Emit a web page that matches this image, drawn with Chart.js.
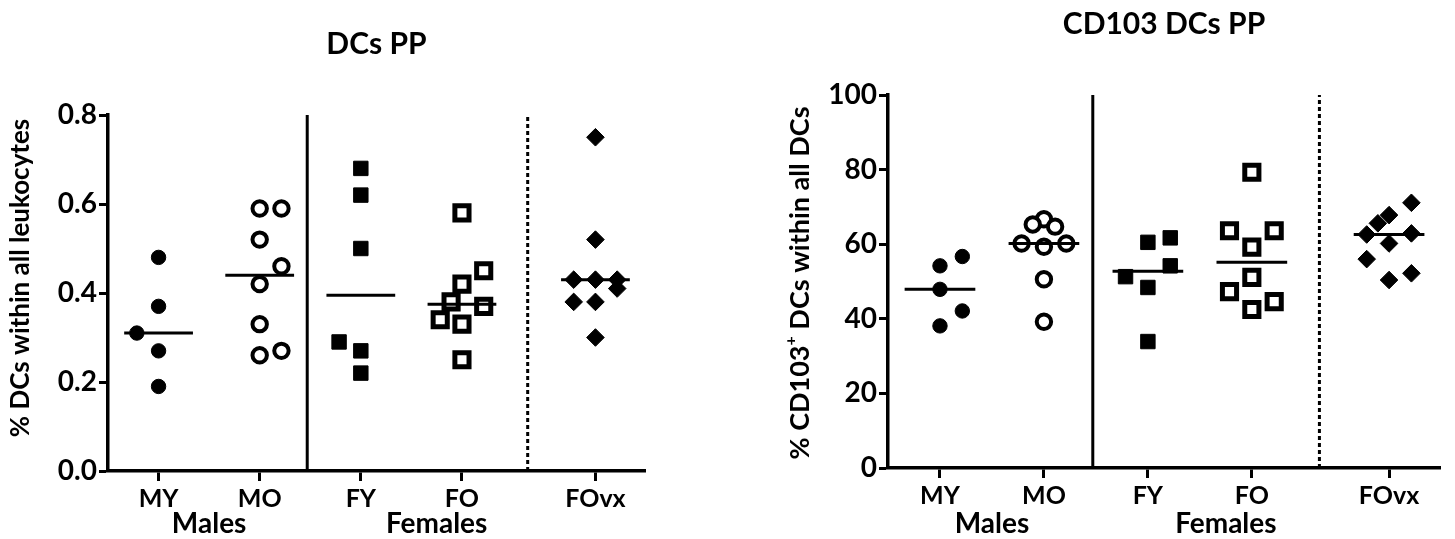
<!DOCTYPE html>
<html>
<head>
<meta charset="utf-8">
<script src="https://cdn.jsdelivr.net/npm/chart.js@4.4.1/dist/chart.umd.min.js"></script>
<style>
  body { margin: 0; background: #fff; }
  #wrap { position: relative; width: 1455px; height: 539px; }
  canvas { position: absolute; top: 0; }
</style>
</head>
<body>
<div id="wrap">
  <canvas id="dcCanvas" width="700" height="539" style="left:0px"></canvas>
  <canvas id="cd103Canvas" width="715" height="539" style="left:740px"></canvas>
</div>
<script>
var groups = ['MY', 'MO', 'FY', 'FO', 'FOvx'];
var sexLabels = ['Males', 'Females'];

// % DCs within all leukocytes (DCs PP)
var dcMY = [0.48, 0.37, 0.31, 0.27, 0.19];
var dcMO = [0.59, 0.59, 0.52, 0.46, 0.42, 0.33, 0.27, 0.26];
var dcFY = [0.68, 0.62, 0.50, 0.29, 0.27, 0.22];
var dcFO = [0.58, 0.45, 0.42, 0.38, 0.37, 0.34, 0.33, 0.25];
var dcFOvx = [0.75, 0.52, 0.43, 0.43, 0.43, 0.41, 0.38, 0.38, 0.30];

// % CD103+ DCs within all DCs (CD103 DCs PP)
var cdMY = [56.7, 54.2, 47.9, 42.1, 38.1];
var cdMO = [66.7, 65.3, 64.7, 60.2, 60.2, 59.3, 50.6, 39.2];
var cdFY = [61.7, 60.5, 54.2, 51.3, 48.4, 33.9];
var cdFO = [79.3, 63.6, 63.6, 59.2, 51.1, 47.3, 44.6, 42.5];
var cdFOvx = [71.1, 67.8, 65.6, 62.9, 62.6, 60.2, 56.0, 52.2, 50.4];

// column slot of each point in the scatter (-1 left, 0 centre, 1 right)
var dcSlots = [
  [0, 0, -1, 0, 0],
  [0, 1, 0, 1, 0, 0, 1, 0],
  [0, 0, 0, -1, 0, 0],
  [0, 1, 0, -0.5, 1, -1, 0, 0],
  [0, 0, -1, 0, 1, 1, -1, 0, 0]
];
var cdSlots = [
  [1, 0, 0, 1, 0],
  [0, -0.5, 0.5, -1, 1, 0, 0, 0],
  [1, 0, 1, -1, 0, 0],
  [0, -1, 1, 0, 0, -1, 1, 0],
  [1, 0, -0.5, 1, -1, 0, -1, 1, 0]
];

// layout on the x axis
var groupPos = [0.5, 1.5, 2.5, 3.5, 4.82];
var sexPos = [1.0, 3.25];
var solidX = 1.97, dottedX = 4.15, xMax = 5.31;
var slotW = 0.215, medHalf = 0.34;

var markers = [
  {style: 'circle', r: 7.2, fill: '#000', bw: 1},
  {style: 'circle', r: 7.2, fill: '#fff', bw: 4},
  {style: 'rect', r: 10.2, fill: '#000', bw: 1},
  {style: 'rect', r: 10, fill: '#fff', bw: 5},
  {style: 'rectRot', r: 8.8, fill: '#000', bw: 1}
];

function median(a) {
  var s = a.slice().sort(function (p, q) { return p - q; });
  var m = Math.floor(s.length / 2);
  return s.length % 2 ? s[m] : (s[m - 1] + s[m]) / 2;
}

var textPlugin = {
  id: 'extraText',
  afterDraw: function (chart, args, opts) {
    var ctx = chart.ctx, xs = chart.scales.x;
    ctx.save();
    ctx.fillStyle = '#000';
    ctx.font = 'bold 28px Lato';
    ctx.textAlign = 'center';
    ctx.textBaseline = 'alphabetic';
    sexLabels.forEach(function (t, i) {
      ctx.fillText(t, xs.getPixelForValue(sexPos[i]), opts.groupY);
    });
    // rotated y title, with optional superscript part
    var big = 'bold ' + opts.size + 'px Lato';
    var small = 'bold ' + Math.round(opts.size * 0.6) + 'px Lato';
    var total = 0;
    opts.parts.forEach(function (p) {
      ctx.font = p.sup ? small : big;
      total += ctx.measureText(p.text).width;
    });
    ctx.translate(opts.x, opts.y);
    ctx.rotate(-Math.PI / 2);
    ctx.textAlign = 'left';
    ctx.textBaseline = 'middle';
    var pos = -total / 2;
    opts.parts.forEach(function (p) {
      ctx.font = p.sup ? small : big;
      ctx.fillText(p.text, pos, p.sup ? -opts.size * 0.35 : 0);
      pos += ctx.measureText(p.text).width;
    });
    ctx.restore();
  }
};

function makeChart(c) {
  var datasets = [];
  c.values.forEach(function (vals, g) {
    var mk = markers[g];
    datasets.push({
      data: vals.map(function (v, i) { return {x: groupPos[g] + c.slots[g][i] * slotW, y: v}; }),
      pointStyle: mk.style,
      pointRadius: mk.r,
      pointBackgroundColor: mk.fill,
      pointBorderColor: '#000',
      pointBorderWidth: mk.bw,
      order: 1
    });
    var m = median(vals);
    datasets.push({
      data: [{x: groupPos[g] - medHalf, y: m}, {x: groupPos[g] + medHalf, y: m}],
      showLine: true, borderColor: '#000', borderWidth: 3, pointRadius: 0, order: 0
    });
  });
  datasets.push({
    data: [{x: solidX, y: 0}, {x: solidX, y: c.yMax}],
    showLine: true, borderColor: '#000', borderWidth: 3, pointRadius: 0, order: 2, clip: false
  });
  datasets.push({
    data: [{x: dottedX, y: 0}, {x: dottedX, y: c.yMax}],
    showLine: true, borderColor: '#000', borderWidth: 3, borderDash: [4, 3], pointRadius: 0, order: 2, clip: false
  });

  var titleLH = 30 * 1.2;
  return new Chart(document.getElementById(c.id), {
    type: 'scatter',
    data: {datasets: datasets},
    plugins: [textPlugin],
    options: {
      responsive: false,
      animation: false,
      events: [],
      layout: {padding: {left: 0, top: 0, right: c.padRight, bottom: 0}},
      plugins: {
        legend: {display: false},
        tooltip: {enabled: false},
        title: {
          display: true, text: c.title, fullSize: false, color: '#000',
          font: {family: 'Lato', size: 30, weight: 'bold'},
          padding: {top: c.titleMid - titleLH / 2, bottom: c.areaTop - c.titleMid - titleLH / 2}
        },
        extraText: {groupY: 533, x: c.yTitleX, y: c.yTitleY, size: c.yTitleSize, parts: c.yTitle}
      },
      scales: {
        x: {
          type: 'linear', min: 0, max: xMax,
          border: {color: '#000', width: 3.5},
          grid: {drawOnChartArea: false, drawTicks: true, tickLength: 10, tickWidth: 3, tickColor: '#000'},
          afterBuildTicks: function (s) { s.ticks = groupPos.map(function (v) { return {value: v}; }); },
          afterFit: function (s) { s.height = 539 - c.areaBottom; },
          ticks: {
            autoSkip: false, maxRotation: 0, padding: 3, color: '#000',
            font: {family: 'Lato', size: 25, weight: 'bold'},
            callback: function (v, i) { return groups[i]; }
          }
        },
        y: {
          min: 0, max: c.yMax,
          border: {color: '#000', width: 3.5},
          grid: {drawOnChartArea: false, drawTicks: true, tickLength: 9, tickWidth: 3, tickColor: '#000'},
          afterFit: function (s) { s.width = c.areaLeft; },
          ticks: {
            stepSize: c.yStep, padding: 2, color: '#000',
            font: {family: 'Lato', size: 28, weight: 'bold'},
            callback: function (v) { return v.toFixed(c.decimals); }
          }
        }
      }
    }
  });
}

makeChart({
  id: 'dcCanvas', title: 'DCs PP',
  values: [dcMY, dcMO, dcFY, dcFO, dcFOvx], slots: dcSlots,
  yMax: 0.8, yStep: 0.2, decimals: 1,
  areaLeft: 108, areaTop: 115, areaBottom: 471, padRight: 55, titleMid: 44,
  yTitleX: 21, yTitleY: 278, yTitleSize: 26,
  yTitle: [{text: '% DCs within all leukocytes'}]
});

makeChart({
  id: 'cd103Canvas', title: 'CD103 DCs PP',
  values: [cdMY, cdMO, cdFY, cdFO, cdFOvx], slots: cdSlots,
  yMax: 100, yStep: 20, decimals: 0,
  areaLeft: 148, areaTop: 95, areaBottom: 468, padRight: 7, titleMid: 24,
  yTitleX: 60, yTitleY: 283, yTitleSize: 27,
  yTitle: [{text: '% CD103'}, {text: '+', sup: true}, {text: ' DCs within all DCs'}]
});
</script>
</body>
</html>
